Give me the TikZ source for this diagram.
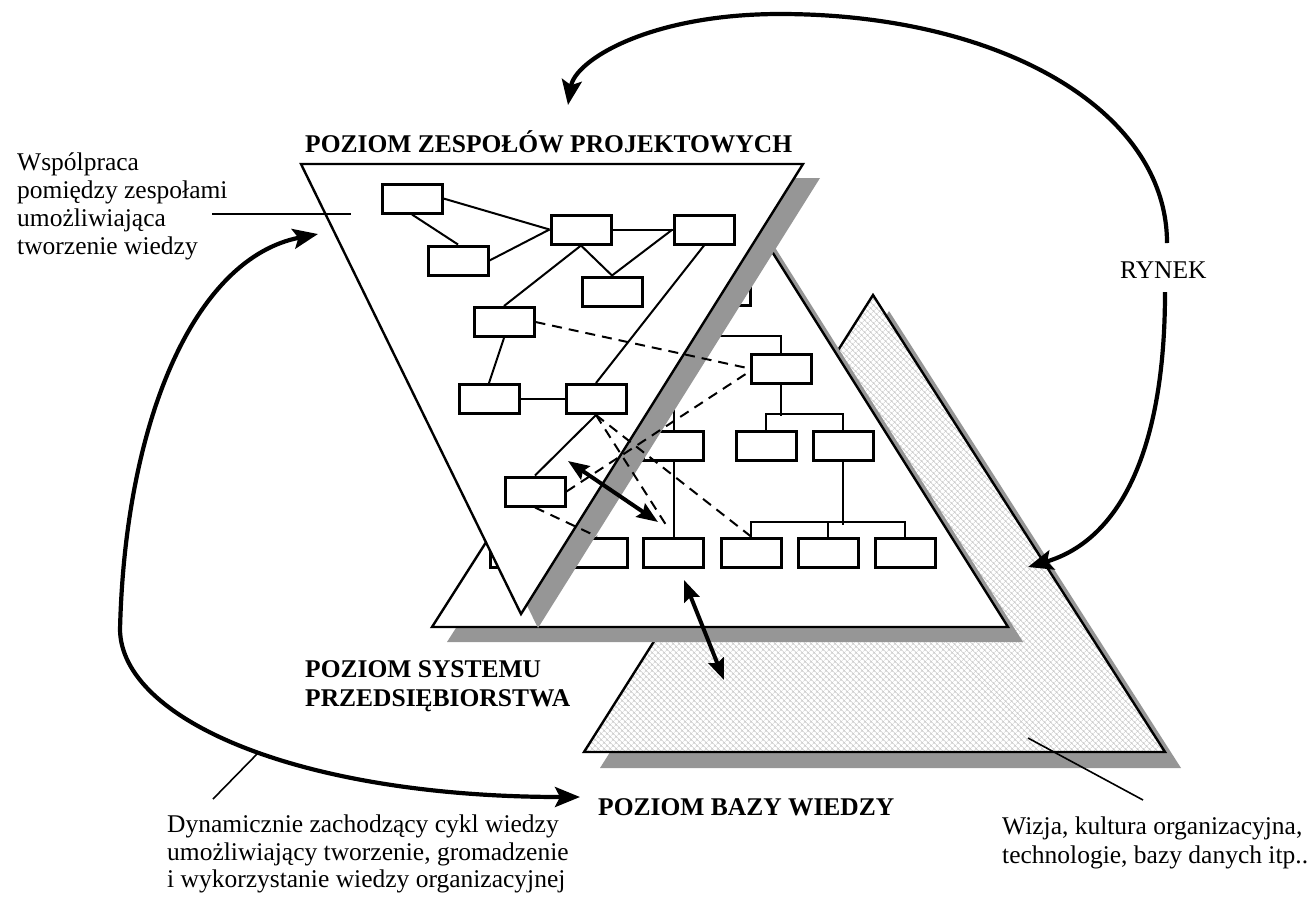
\documentclass[tikz,border=0pt]{standalone}
\usepackage{fontspec}
\setmainfont{Liberation Serif}
\usetikzlibrary{arrows.meta,patterns.meta,calc}
\definecolor{shd}{RGB}{150,150,150}
\definecolor{hatchc}{RGB}{200,200,200}
\begin{document}
\begin{tikzpicture}[x=1pt,y=-1pt,
  tri/.style={draw=black,line width=2.4pt,line join=miter},
  box/.style={draw=black,fill=white,line width=3pt,minimum width=60pt,minimum height=29pt,inner sep=0pt},
  conn/.style={line width=2pt},
  dashc/.style={line width=2pt,dash pattern=on 10pt off 7pt},
  dbl/.style={line width=4pt,<->,>={Stealth[length=21pt,width=16pt,inset=3pt]}},
  big/.style={line width=4.2pt,>={Stealth[length=25pt,width=20pt,inset=5pt]}},
  lab/.style={inner sep=0pt,align=left,font=\fontsize{25.5}{28}\selectfont},
  blab/.style={inner sep=0pt,align=left,font=\fontsize{25.5}{29.4}\selectfont\bfseries},
  leader/.style={line width=1.6pt}
]
\useasboundingbox (0,0) rectangle (1313,898);

% ---------- knowledge base triangle ----------
\fill[shd] (889,311) -- (600,768) -- (1181,768) -- cycle;
\fill[white] (873,295) -- (584,752) -- (1165,752) -- cycle;
\fill[pattern={Hatch[angle=45,distance=4pt,line width=0.6pt]},pattern color=hatchc]
  (873,295) -- (584,752) -- (1165,752) -- cycle;
\draw[tri] (873,295) -- (584,752) -- (1165,752) -- cycle;

% ---------- enterprise system triangle ----------
\fill[shd] (737,187) -- (447,642) -- (1023,642) -- cycle;
\draw[tri,fill=white] (722,172) -- (432,627) -- (1008,627) -- cycle;

% system hierarchy boxes
\node[box] (S0) at (720,291) {};
\node[box] (S1) at (781,368.5) {};
\node[box] (S2) at (766,445.5) {};
\node[box] (S3) at (843,445.5) {};
\node[box] (S4) at (673.5,445.5) {};
\node[box] (R1) at (520,552.5) {};
\node[box] (R2) at (597,552.5) {};
\node[box] (R3) at (673.5,552.5) {};
\node[box] (R4) at (751,552.5) {};
\node[box] (R5) at (828,552.5) {};
\node[box] (R6) at (905,552.5) {};

\draw[conn] (S1.north) -- ++(0,-16.5) -| (S0.south);
\draw[conn] (S1.south) -- ++(0,31.5);
\draw[conn] (S2.north) -- ++(0,-16) -| (S3.north);
\draw[conn] (S4.north) -- ++(0,-40);
\draw[conn] (S4.south) -- (R3.north);
\draw[conn] (S3.south) -- ++(0,63);
\draw[conn] (R4.north) -- ++(0,-15) -| (R6.north);
\draw[conn] (R5.north) -- ++(0,-15);

% ---------- project teams triangle ----------
\fill[shd] (318,178) -- (820,178) -- (538,628) -- cycle;
\draw[tri,fill=white] (301,164) -- (803,164) -- (521,614) -- cycle;

\node[box] (B1) at (412,198.5) {};
\node[box] (B2) at (458,260.5) {};
\node[box] (B3) at (581,229.5) {};
\node[box] (B4) at (704,229.5) {};
\node[box] (B5) at (612,291.5) {};
\node[box] (B6) at (504,322) {};
\node[box] (B7) at (489,399) {};
\node[box] (B8) at (596,399) {};
\node[box] (B9) at (535,491.5) {};

\draw[conn] (B1.east) -- (B3.west);
\draw[conn] (B1.south) -- (B2.north);
\draw[conn] (B2.east) -- (B3.west);
\draw[conn] (B3.east) -- (B4.west);
\draw[conn] (B3.south) -- (B5.north);
\draw[conn] (B4.west) -- (B5.north);
\draw[conn] (B3.south) -- (B6.north);
\draw[conn] (B4.south) -- (B8.north);
\draw[conn] (B6.south) -- (B7.north);
\draw[conn] (B7.east) -- (B8.west);
\draw[conn] (B9.north) -- (B8.south);

% ---------- dashed links ----------
\coordinate (d3) at (668,528);
\draw[dashc] (B6.east) -- (S1.west);
\draw[dashc] (B9.east) -- ([yshift=-3pt]S1.west);
\draw[dashc] (B8.south) -- (R4.north);
\draw[dashc] (B8.south) -- (d3);
\draw[dashc] (B9.south) -- (R2.north);

% ---------- double arrows ----------
\coordinate (a1) at (568,461);
\coordinate (a2) at (658,522);
\coordinate (a3) at (684,580);
\coordinate (a4) at (724,680);
\draw[dbl] (a1) -- (a2);
\draw[dbl] (a3) -- (a4);

% ---------- texts ----------
\node[blab,anchor=base west] (tZesp) at (305,152) {POZIOM ZESPOŁÓW PROJEKTOWYCH};
\node[lab,anchor=north west] (tWsp) at (17,152.6) {Wspólpraca\\pomiędzy zespołami\\umożliwiająca\\tworzenie wiedzy};
\node[blab,anchor=north west] (tSys) at (305,660) {POZIOM SYSTEMU\\PRZEDSIĘBIORSTWA};
\node[blab,anchor=base west] (tBaza) at (598,815) {POZIOM BAZY WIEDZY};
\node[lab,anchor=base west] (tRynek) at (1120,278) {RYNEK};
\node[lab,anchor=north west,font=\fontsize{25.5}{27.5}\selectfont] (tDyn) at (167,814.6)
  {Dynamicznie zachodzący cykl wiedzy\\umożliwiający tworzenie, gromadzenie\\i wykorzystanie wiedzy organizacyjnej};
\node[lab,anchor=north west,font=\fontsize{25.5}{29}\selectfont] (tWiz) at (1002,816.6)
  {Wizja, kultura organizacyjna,\\technologie, bazy danych itp..};

% ---------- leaders ----------
\coordinate (lw1) at (212,214);
\coordinate (lw2) at (351,214);
\draw[leader] (lw1) -- (lw2);
\coordinate (ld1) at (213,799);
\coordinate (ld2) at (258,753);
\draw[leader] (ld1) -- (ld2);
\coordinate (lz1) at (1143,800);
\coordinate (lz2) at (1028,738);
\draw[leader] (lz1) -- (lz2);

% ---------- market arrows ----------
\coordinate (rk1) at (1167,243);
\coordinate (rtop) at (568,105);
\coordinate (rk2) at (1165,292);
\coordinate (rbot) at (1028,567);
\draw[big,->] (rk1) .. controls (1167,110) and (1000,14) .. (780,14)
  .. controls (650,14) and (575,60) .. (rtop);
\draw[big,->] (rk2) .. controls (1165,450) and (1120,540) .. (rbot);

% ---------- knowledge cycle arrow ----------
\coordinate (cyTop) at (318,234);
\coordinate (cyMid) at (120,630);
\coordinate (cyEnd) at (580,797);
\draw[big,<->] (cyTop) .. controls (195,258) and (125,420) .. (cyMid)
  .. controls (122,720) and (300,797) .. (cyEnd);
\end{tikzpicture}
\end{document}
